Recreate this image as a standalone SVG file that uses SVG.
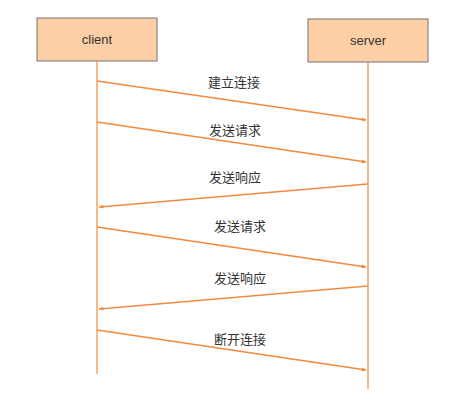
<svg xmlns="http://www.w3.org/2000/svg" width="450" height="402" viewBox="0 0 450 402">
<style>
.box{fill:#fdcfa6;stroke:#8c8580;stroke-width:1.2}
.life{stroke:#f5a160;stroke-width:1.5;fill:none}
.msg{stroke:#f28a3e;stroke-width:1.5;fill:none;marker-end:url(#ah)}
.t{font-family:"Liberation Sans","Noto Sans CJK SC",sans-serif;font-size:13px;fill:#333;text-anchor:middle}
</style>
<defs>
<marker id="ah" viewBox="0 0 10 10" refX="9" refY="5" markerWidth="5" markerHeight="5" orient="auto" markerUnits="userSpaceOnUse">
<path d="M0,1 L10,5 L0,9 z" fill="#f28a3e"/>
</marker>
</defs>
<rect width="450" height="402" fill="#fff"/>
<g id="client">
<rect class="box" x="37" y="18" width="120" height="43"/>
<text class="t" x="97" y="44">client</text>
<line class="life" x1="97" y1="61" x2="97" y2="374"/>
</g>
<g id="server">
<rect class="box" x="308" y="19" width="120" height="43"/>
<text class="t" x="368" y="45">server</text>
<line class="life" x1="368" y1="62" x2="368" y2="389"/>
</g>
<g id="connectors">
<line class="msg" x1="97" y1="81" x2="366" y2="120"/>
<text class="t" x="234" y="87">建立连接</text>
<line class="msg" x1="97" y1="122" x2="366" y2="162"/>
<text class="t" x="235" y="135">发送请求</text>
<line class="msg" x1="368" y1="184" x2="99" y2="207"/>
<text class="t" x="235" y="182">发送响应</text>
<line class="msg" x1="97" y1="227" x2="366" y2="267"/>
<text class="t" x="240" y="231">发送请求</text>
<line class="msg" x1="368" y1="286" x2="99" y2="309"/>
<text class="t" x="240" y="283">发送响应</text>
<line class="msg" x1="97" y1="330" x2="366" y2="370"/>
<text class="t" x="240" y="344">断开连接</text>
</g>
</svg>
